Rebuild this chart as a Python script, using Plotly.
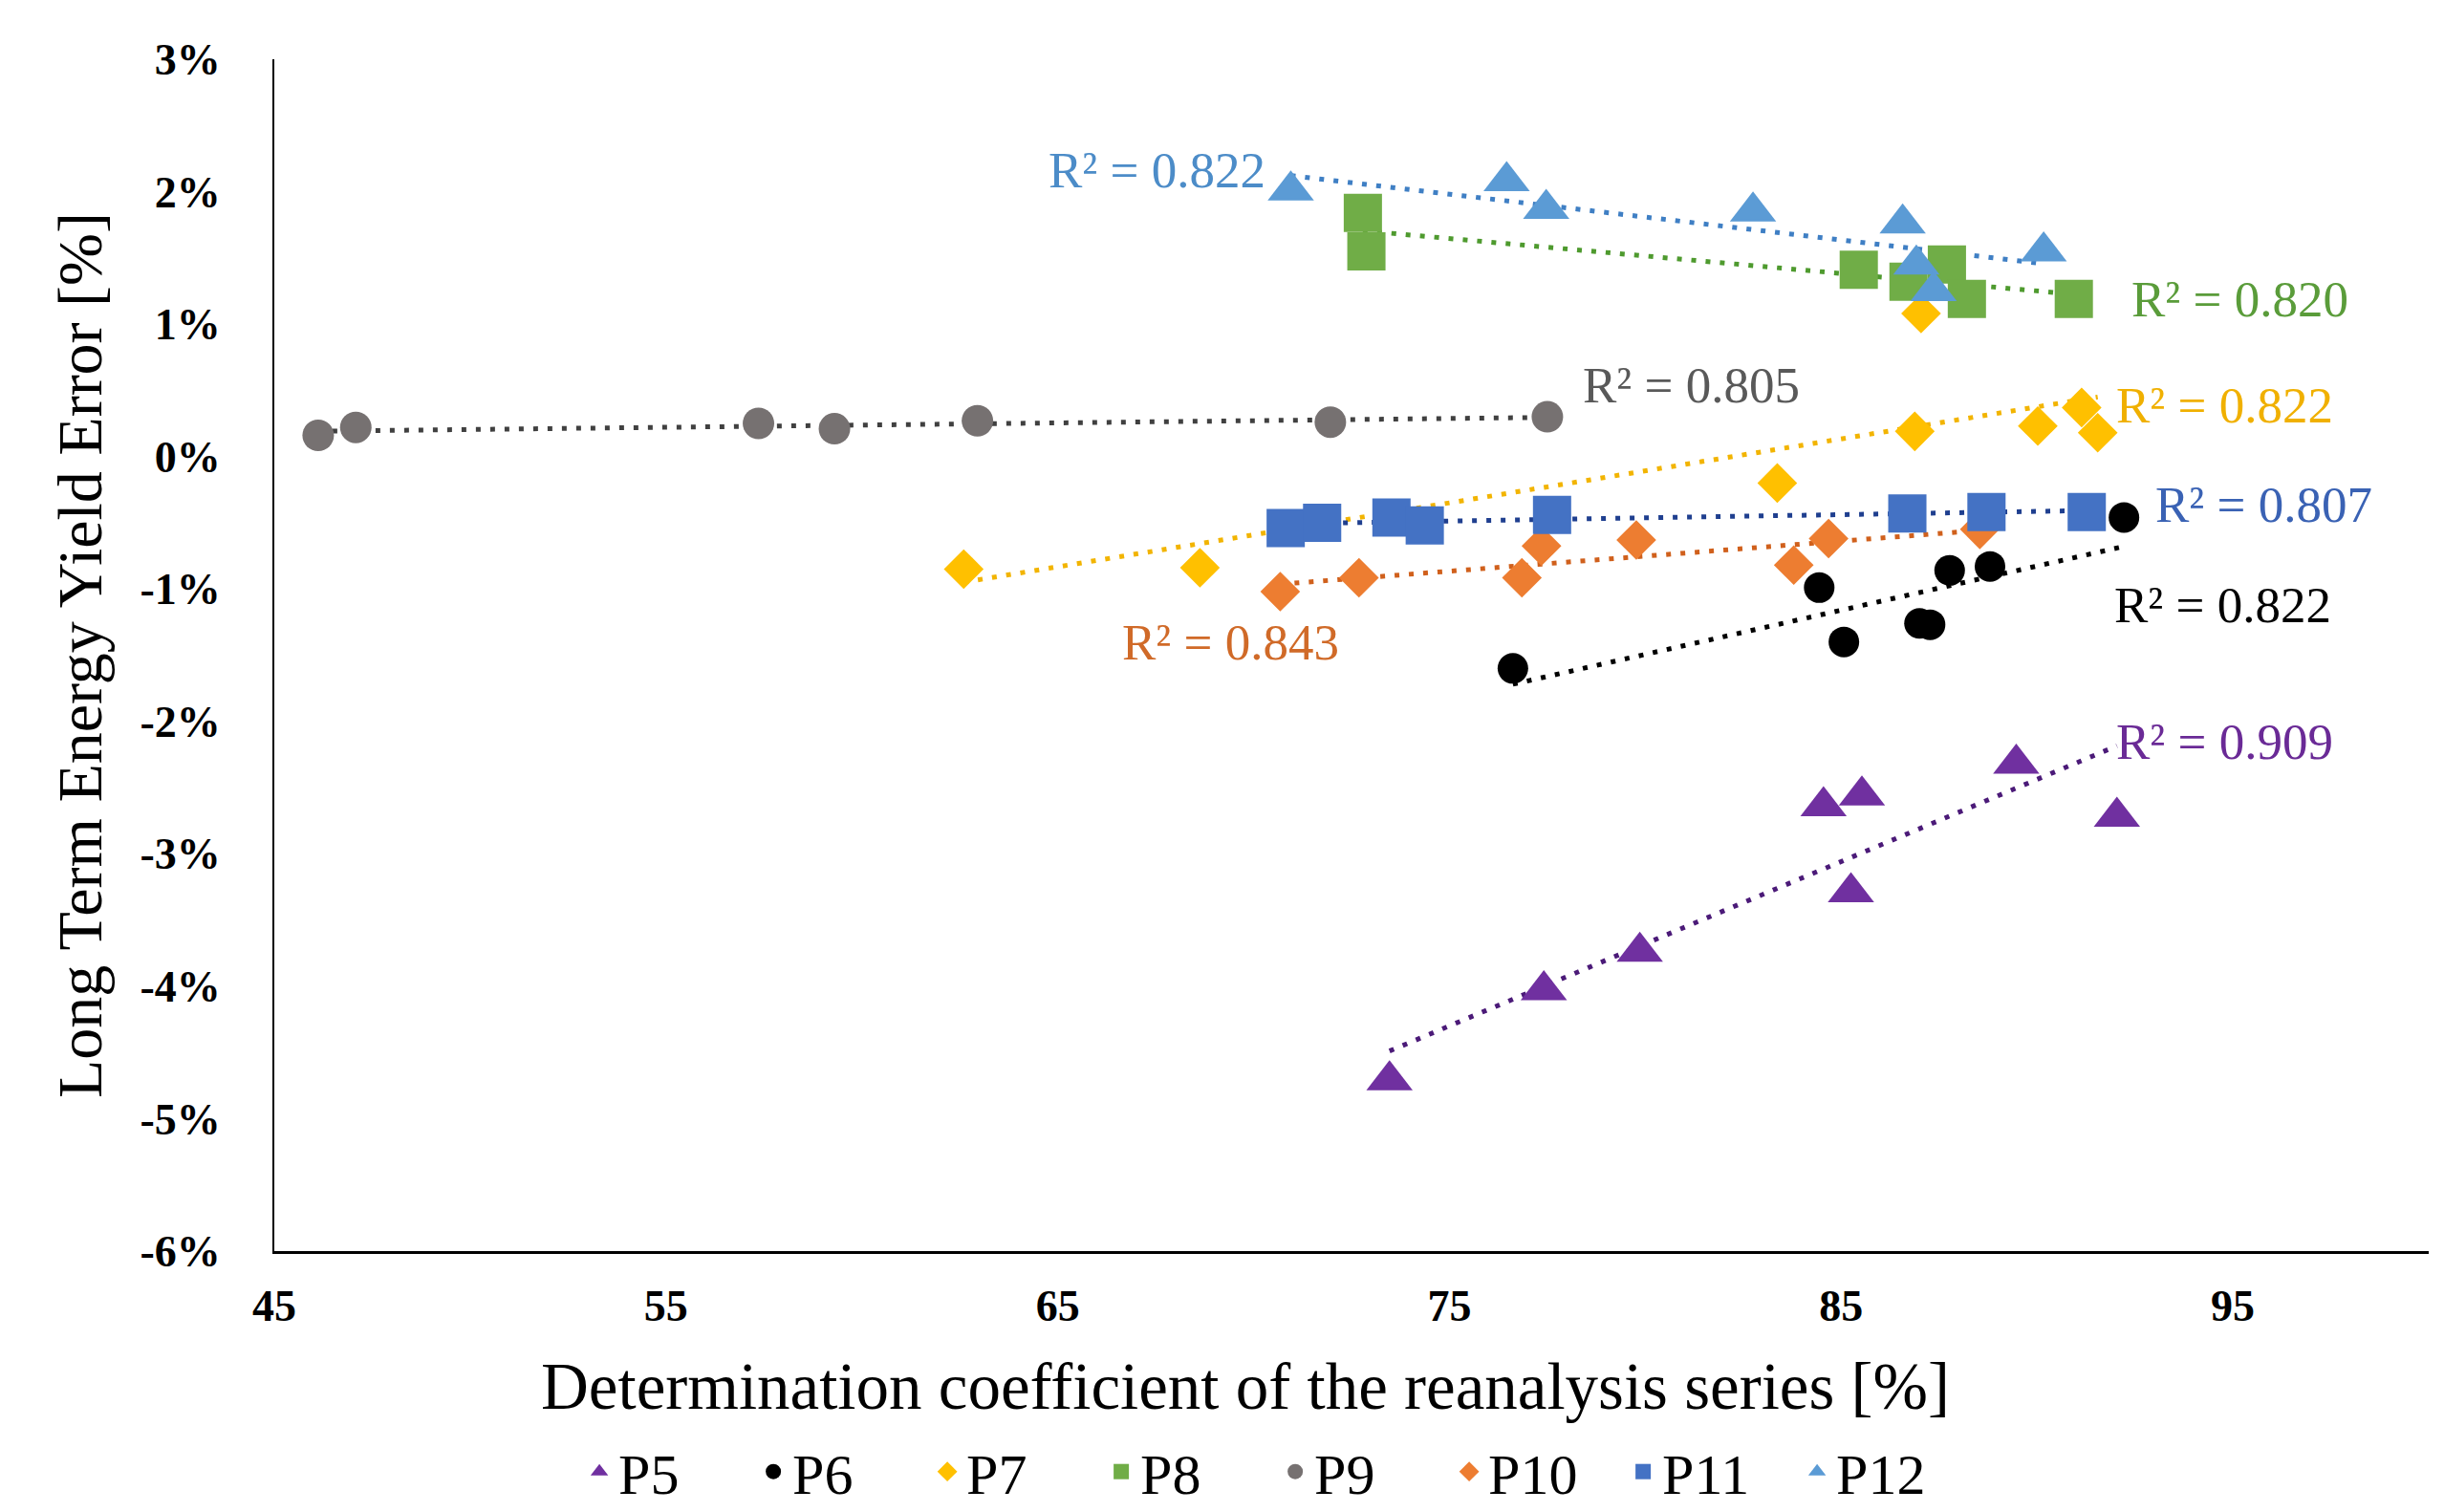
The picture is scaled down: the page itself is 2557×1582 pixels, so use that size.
import numpy as np
import plotly.graph_objects as go

# ---- data ----
series_names = ["P5", "P6", "P7", "P8", "P9", "P10", "P11", "P12"]

p5_x = [73.47, 77.41, 79.86, 84.55, 85.53, 85.25, 89.47, 92.04]
p5_y = [-4.71, -4.03, -3.74, -2.64, -2.56, -3.29, -2.32, -2.72]

p6_x = [76.62, 84.44, 85.07, 87.00, 87.27, 87.77, 88.80, 92.22]
p6_y = [-1.60, -0.99, -1.40, -1.26, -1.27, -0.86, -0.83, -0.46]

p7_x = [62.60, 68.63, 83.37, 86.88, 87.04, 90.02, 91.14, 91.55]
p7_y = [-0.85, -0.84, -0.20, 0.19, 1.08, 0.23, 0.37, 0.18]

p8_x = [72.79, 72.88, 85.45, 86.72, 87.70, 88.21, 90.94]
p8_y = [1.84, 1.55, 1.41, 1.32, 1.45, 1.19, 1.19]

p9_x = [46.12, 47.08, 57.36, 59.30, 62.95, 71.96, 77.50]
p9_y = [0.16, 0.22, 0.25, 0.21, 0.27, 0.26, 0.30]

p10_x = [70.68, 72.69, 76.85, 77.35, 79.77, 83.79, 84.68, 88.54]
p10_y = [-1.02, -0.915, -0.915, -0.675, -0.63, -0.82, -0.62, -0.55]

p11_x = [70.82, 71.75, 73.52, 74.37, 77.62, 86.69, 88.71, 91.27]
p11_y = [-0.54, -0.50, -0.46, -0.52, -0.44, -0.43, -0.42, -0.42]

p12_x = [70.95, 76.46, 77.47, 82.75, 86.57, 86.92, 87.36, 90.17]
p12_y = [2.01, 2.08, 1.87, 1.85, 1.76, 1.45, 1.25, 1.55]

r2_labels = ["R² = 0.909", "R² = 0.822", "R² = 0.822", "R² = 0.820",
             "R² = 0.805", "R² = 0.843", "R² = 0.807", "R² = 0.822"]
label_x = [94.8, 94.73, 94.8, 95.17, 81.17, 69.41, 95.8, 67.54]
label_y = [-2.15, -1.12, 0.39, 1.19, 0.54, -1.40, -0.36, 2.16]

x_ticks = [45, 55, 65, 75, 85, 95]
y_ticks = [-6, -5, -4, -3, -2, -1, 0, 1, 2, 3]
y_tick_text = ["-6%", "-5%", "-4%", "-3%", "-2%", "-1%", "0%", "1%", "2%", "3%"]

x_title = "Determination coefficient of the reanalysis series [%]"
y_title = "Long Term Energy Yield Error [%]"

# ---- styles ----
xs = [p5_x, p6_x, p7_x, p8_x, p9_x, p10_x, p11_x, p12_x]
ys = [p5_y, p6_y, p7_y, p8_y, p9_y, p10_y, p11_y, p12_y]
colors = ["#7030A0", "#000000", "#FFC000", "#70AD47", "#767171", "#ED7D31", "#4472C4", "#5B9BD5"]
trend_colors = ["#4B1A78", "#000000", "#F2B400", "#4E9A2E", "#404040", "#D0601C", "#1F3F8F", "#3F7FC4"]
label_colors = ["#6A2A96", "#000000", "#F0B000", "#5A9C3A", "#595959", "#D06A28", "#3A62B4", "#4C8CC8"]
symbols = ["triangle-up", "circle", "diamond", "square", "circle", "diamond", "square", "triangle-up"]
sizes = [42, 32, 32, 40, 33, 32, 40, 42]

FONT = "Liberation Serif, Times New Roman, serif"

fig = go.Figure()

# trend lines (least squares fit of each series)
for name, x, y, tc in zip(series_names, xs, ys, trend_colors):
    xa = np.array(x)
    ya = np.array(y)
    k, b = np.polyfit(xa, ya, 1)
    xl = np.array([xa.min(), xa.max()])
    fig.add_trace(go.Scatter(
        x=xl, y=k * xl + b, mode="lines", showlegend=False, hoverinfo="skip",
        line=dict(color=tc, width=5, dash="5px,10px")))

# markers
for name, x, y, c, s, sz in zip(series_names, xs, ys, colors, symbols, sizes):
    fig.add_trace(go.Scatter(
        x=x, y=y, mode="markers", name=name,
        marker=dict(color=c, symbol=s, size=sz, line=dict(width=0))))

# R² labels
for txt, lx, ly, lc in zip(r2_labels, label_x, label_y, label_colors):
    fig.add_annotation(x=lx, y=ly, xref="x", yref="y", text=txt, showarrow=False,
                       xanchor="center", yanchor="middle",
                       font=dict(family=FONT, size=53, color=lc))

# x axis title (offset left of plot centre as in the reference)
fig.add_annotation(x=0.4508, y=-0.1139, xref="paper", yref="paper", text=x_title,
                   showarrow=False, xanchor="center", yanchor="middle",
                   font=dict(family=FONT, size=69, color="black"))

# page body has an 8px default margin, so the figure is sized/offset to compensate
fig.update_layout(
    width=2549, height=1574,
    margin=dict(l=279, r=16, t=54, b=273, autoexpand=False),
    paper_bgcolor="white", plot_bgcolor="white",
    font=dict(family=FONT, color="black"),
    showlegend=True,
    legend=dict(orientation="h", x=0.465, y=-0.185, xanchor="center", yanchor="middle",
                font=dict(family=FONT, size=60, color="black"),
                entrywidth=137, entrywidthmode="pixels",
                itemsizing="trace", tracegroupgap=0, bgcolor="rgba(0,0,0,0)"),
    xaxis=dict(range=[45, 100], tickvals=x_ticks, showgrid=False, zeroline=False,
               showline=True, linecolor="#000000", linewidth=3, ticks="",
               ticklabelstandoff=15, automargin=False,
               tickfont=dict(family=FONT, size=46, color="black", weight="bold")),
    yaxis=dict(range=[-6, 3], tickvals=y_ticks, ticktext=y_tick_text, showgrid=False,
               zeroline=False, showline=True, linecolor="#000000", linewidth=2, ticks="",
               ticklabelstandoff=45, automargin=False,
               tickfont=dict(family=FONT, size=46, color="black", weight="bold"),
               title=dict(text=y_title,
                          font=dict(family=FONT, size=66, color="black"), standoff=18)),
)

fig.write_html("out.html")
